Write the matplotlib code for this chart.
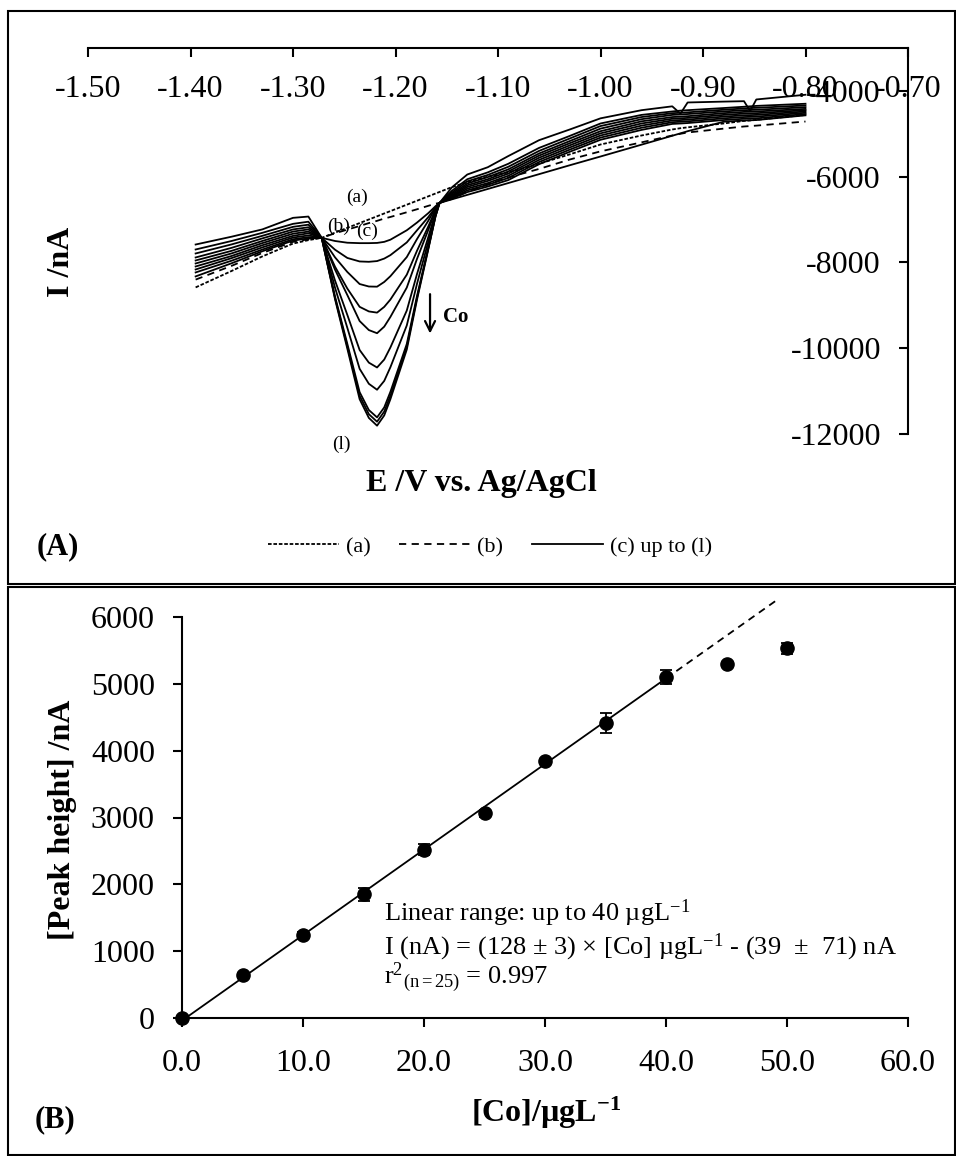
import matplotlib
matplotlib.use('Agg')
import matplotlib.pyplot as plt
from matplotlib.patches import Rectangle
from matplotlib.lines import Line2D

plt.rcParams['font.family'] = ['Liberation Serif', 'DejaVu Serif']
plt.rcParams['mathtext.fontset'] = 'custom'
plt.rcParams['mathtext.rm'] = 'Liberation Serif'
plt.rcParams['mathtext.it'] = 'Liberation Serif:italic'
plt.rcParams['mathtext.bf'] = 'Liberation Serif:bold'
plt.rcParams['axes.unicode_minus'] = False

# ---- panel A: stripping voltammograms (E / V, I / nA) ----
E = [-1.395, -1.36, -1.33, -1.30, -1.285, -1.272, -1.259, -1.247, -1.235, -1.226, -1.218,
     -1.211, -1.205, -1.189, -1.179, -1.168, -1.161, -1.157, -1.145, -1.13, -1.11, -1.09,
     -1.06, -1.03, -1.00, -0.96, -0.93, -0.922, -0.915, -0.88, -0.86, -0.854, -0.848, -0.80]

I_a = [-8582, -8200, -7860, -7560, -7480, -7426, -7305, -7193, -7082, -6998, -6924,
       -6858, -6803, -6654, -6561, -6458, -6393, -6356, -6244, -6130, -6000, -5900,
       -5700, -5480, -5250, -5040, -4900, -4870, -4850, -4760, -4700, -4690, -4675, -4560]
I_b = [-8400, -8080, -7780, -7520, -7460, -7426, -7320, -7235, -7150, -7082, -7030,
       -6976, -6940, -6830, -6760, -6680, -6630, -6612, -6520, -6350, -6180, -6020,
       -5820, -5600, -5410, -5200, -5040, -5000, -4970, -4880, -4830, -4820, -4810, -4714]
I_c = [-8326, -8020, -7740, -7490, -7440, -7426, -7500, -7540, -7550, -7550, -7545,
       -7520, -7470, -7250, -7070, -6850, -6690, -6612, -6529, -6425, -6287, -6149,
       -5942, -5734, -5530, -5254, -5046, -4990, -4940, -4720, -4690, -4685, -4680, -4570]
I_d = [-8233, -7960, -7700, -7460, -7410, -7426, -7703, -7895, -7977, -7985, -7968,
       -7910, -7830, -7533, -7250, -6942, -6717, -6612, -6510, -6360, -6230, -6080,
       -5710, -5420, -5140, -4910, -4770, -4760, -4750, -4680, -4650, -4645, -4640, -4540]
I_e = [-8164, -7900, -7650, -7420, -7370, -7426, -7881, -8222, -8503, -8561, -8565,
       -8455, -8321, -7875, -7454, -7027, -6734, -6612, -6490, -6320, -6190, -6030,
       -5660, -5370, -5090, -4860, -4730, -4720, -4710, -4640, -4610, -4605, -4600, -4510]
I_f = [-8094, -7850, -7600, -7380, -7320, -7426, -8099, -8609, -9035, -9142, -9170,
       -9036, -8866, -8286, -7726, -7161, -6771, -6612, -6470, -6280, -6150, -5980,
       -5610, -5320, -5040, -4810, -4690, -4680, -4670, -4600, -4570, -4565, -4560, -4480]
I_g = [-8024, -7790, -7550, -7330, -7280, -7426, -8168, -8760, -9366, -9577, -9650,
       -9497, -9271, -8586, -7916, -7240, -6799, -6612, -6450, -6240, -6100, -5930,
       -5560, -5270, -4990, -4760, -4650, -4640, -4630, -4560, -4530, -4525, -4520, -4450]
I_h = [-7954, -7730, -7500, -7280, -7230, -7426, -8423, -9223, -10041, -10336, -10449,
       -10264, -9983, -9122, -8268, -7408, -6847, -6612, -6430, -6200, -6060, -5880,
       -5510, -5220, -4940, -4710, -4610, -4600, -4590, -4520, -4490, -4485, -4480, -4420]
I_i = [-7884, -7660, -7440, -7230, -7180, -7426, -8589, -9524, -10480, -10829, -10968,
       -10762, -10444, -9469, -8496, -7517, -6878, -6612, -6400, -6160, -6010, -5830,
       -5460, -5170, -4880, -4660, -4560, -4550, -4540, -4480, -4450, -4445, -4440, -4380]
I_j = [-7791, -7580, -7380, -7170, -7120, -7426, -8795, -9898, -11024, -11441, -11612,
       -11380, -11018, -9901, -8779, -7652, -6917, -6612, -6370, -6110, -5960, -5770,
       -5400, -5110, -4820, -4610, -4520, -4510, -4500, -4440, -4410, -4400, -4395, -4340]
I_k = [-7698, -7500, -7310, -7100, -7050, -7426, -8828, -9956, -11109, -11537, -11713,
       -11477, -11108, -9969, -8824, -7673, -6923, -6612, -6330, -6060, -5900, -5700,
       -5330, -5050, -4760, -4560, -4480, -4460, -4450, -4400, -4370, -4360, -4350, -4300]
I_l = [-7582, -7400, -7230, -6960, -6930, -7426, -8857, -10010, -11188, -11625, -11806,
       -11567, -11190, -10031, -8865, -7693, -6929, -6612, -6250, -5950, -5780, -5520,
       -5150, -4900, -4640, -4450, -4360, -4530, -4270, -4250, -4240, -4470, -4200, -4090]
solid_curves = [I_c, I_d, I_e, I_f, I_g, I_h, I_i, I_j, I_k, I_l]

xticks_A = [-1.50, -1.40, -1.30, -1.20, -1.10, -1.00, -0.90, -0.80, -0.70]
yticks_A = [-12000, -10000, -8000, -6000, -4000]

# ---- panel B: calibration ----
conc = [0, 5, 10, 15, 20, 25, 30, 35, 40, 45, 50]
peak = [0, 640, 1240, 1850, 2520, 3060, 3840, 4420, 5100, 5300, 5530]
peak_err = [30, 40, 40, 100, 80, 50, 40, 150, 100, 30, 80]
fit_slope, fit_icpt = 128, -39
fit_end, extrap_end = 40, 49.3
xticks_B = [0, 10, 20, 30, 40, 50, 60]
yticks_B = [0, 1000, 2000, 3000, 4000, 5000, 6000]

W, H = 956, 1156
fig = plt.figure(figsize=(W / 100, H / 100), dpi=100)

def fx(px): return px / W
def fy(py): return 1 - py / H

TICK = 23
LW = 1.3

# ---------------- panel A ----------------
axA = fig.add_axes([fx(88), fy(434), fx(908) - fx(88), fy(48) - fy(434)])
axA.plot(E, I_a, color='k', lw=LW, ls=(0, (2, 1)))
axA.plot(E, I_b, color='k', lw=LW, ls=(0, (4, 3)))
for cur in solid_curves:
    axA.plot(E, cur, color='k', lw=LW)
axA.set_xlim(-1.50, -0.70)
axA.set_ylim(-12000, -3000)
axA.spines['top'].set_visible(False)
axA.spines['right'].set_visible(False)
axA.spines['bottom'].set_position(('axes', 1.0))
axA.spines['left'].set_position(('axes', 1.0))
for s in ('bottom', 'left'):
    axA.spines[s].set_linewidth(1.5)
axA.set_xticks(xticks_A)
axA.set_xticklabels([f'{v:.2f}' for v in xticks_A])
axA.set_yticks(yticks_A)
axA.set_yticklabels([f'{v:d}' for v in yticks_A])
axA.tick_params(direction='out', length=6.5, width=1.5, labelsize=TICK)
axA.tick_params(axis='x', pad=13)
axA.tick_params(axis='y', pad=13)

axA.text(0.48, -0.127, 'E /V vs. Ag/AgCl', transform=axA.transAxes,
         ha='center', va='center', fontsize=23, fontweight='bold')
axA.text(-0.032, 0.446, 'I /nA', transform=axA.transAxes, rotation=90,
         ha='center', va='center', fontsize=23, fontweight='bold')

axA.text(-1.2376, -6489, '(a)', fontsize=14, ha='center', va='center')
axA.text(-1.256, -7163, '(b)', fontsize=14, ha='center', va='center')
axA.text(-1.228, -7280, '(c)', fontsize=14, ha='center', va='center')
axA.text(-1.2532, -12234, '(l)', fontsize=14, ha='center', va='center', clip_on=False)
axA.annotate('', xy=(-1.1663, -9722), xytext=(-1.1663, -8675),
             arrowprops=dict(arrowstyle='->', color='k', lw=1.6, mutation_scale=18))
axA.text(-1.1537, -9280, 'Co', fontsize=15, fontweight='bold', ha='left', va='center')

handles = [Line2D([], [], color='k', lw=LW, ls=(0, (2, 1))),
           Line2D([], [], color='k', lw=LW, ls=(0, (4, 3))),
           Line2D([], [], color='k', lw=LW)]
fig.legend(handles, ['(a)', '(b)', '(c) up to (l)'], loc='center',
           bbox_to_anchor=(fx(490), fy(547)), ncol=3, frameon=False, fontsize=16,
           handlelength=3.2, handletextpad=0.3, columnspacing=1.3)
fig.text(fx(58), fy(547), '(A)', fontsize=22, fontweight='bold', ha='center', va='center')

# ---------------- panel B ----------------
axB = fig.add_axes([fx(182), fy(1018), fx(908) - fx(182), fy(617) - fy(1018)])
axB.plot([0, fit_end], [fit_icpt, fit_slope * fit_end + fit_icpt], color='k', lw=LW, clip_on=False)
axB.plot([fit_end, extrap_end], [fit_slope * fit_end + fit_icpt, fit_slope * extrap_end + fit_icpt],
         color='k', lw=LW, ls=(0, (4, 3)), clip_on=False)
axB.errorbar(conc, peak, yerr=peak_err, fmt='o', color='k', ms=9.5, ecolor='k',
             elinewidth=1.3, capsize=4, capthick=1.3, clip_on=False, zorder=3)
axB.set_xlim(0, 60)
axB.set_ylim(0, 6000)
axB.spines['top'].set_visible(False)
axB.spines['right'].set_visible(False)
for s in ('bottom', 'left'):
    axB.spines[s].set_linewidth(1.5)
axB.set_xticks(xticks_B)
axB.set_xticklabels([f'{v:.1f}' for v in xticks_B])
axB.set_yticks(yticks_B)
axB.tick_params(direction='out', length=6.5, width=1.5, labelsize=TICK)
axB.tick_params(axis='x', pad=16)
axB.tick_params(axis='y', pad=13)

axB.text(0.501, -0.237, '[Co]/µgL$^{\\mathbf{-1}}$', transform=axB.transAxes,
         ha='center', va='center', fontsize=23, fontweight='bold')
axB.text(-0.164, 0.494, '[Peak height] /nA', transform=axB.transAxes, rotation=90,
         ha='center', va='center', fontsize=23, fontweight='bold')

axB.text(16.7, 1571, 'Linear range: up to 40 µgL$^{-1}$', fontsize=19, ha='left', va='center')
axB.text(16.7, 1063, 'I (nA) = (128 ± 3) × [Co] µgL$^{-1}$ - (39  ±  71) nA',
         fontsize=19, ha='left', va='center')
axB.text(16.7, 599, 'r$^{2}$$\\mathregular{_{(n=25)}}$ = 0.997', fontsize=19, ha='left', va='center')
fig.text(fx(55), fy(1120), '(B)', fontsize=22, fontweight='bold', ha='center', va='center')

# panel frames
fig.add_artist(Rectangle((fx(7.5), fy(584)), fx(955) - fx(7.5), fy(11) - fy(584),
                         transform=fig.transFigure, fill=False, lw=1.5, ec='k'))
fig.add_artist(Rectangle((fx(7.5), fy(1155)), fx(955) - fx(7.5), fy(587) - fy(1155),
                         transform=fig.transFigure, fill=False, lw=1.5, ec='k'))

fig.savefig('out.png', dpi=100)
